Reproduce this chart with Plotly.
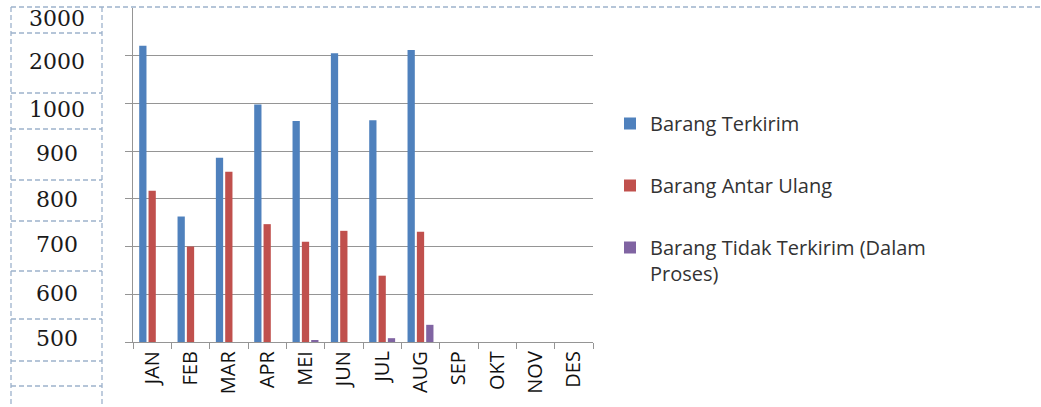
import numpy as np
import plotly.graph_objects as go

months = ["JAN", "FEB", "MAR", "APR", "MEI", "JUN", "JUL", "AUG", "SEP", "OKT", "NOV", "DES"]
terkirim = [2210, 763, 886, 998, 963, 2050, 965, 2120, None, None, None, None]
antar_ulang = [817, 700, 857, 747, 710, 733, 639, 731, None, None, None, None]
tidak_terkirim = [None, None, None, None, 503, None, 508, 536, None, None, None, None]
y_tick_values = [500, 600, 700, 800, 900, 1000, 2000, 3000]
y_tick_labels = ["500", "600", "700", "800", "900", "1000", "2000", "3000"]

# axis positions of the (non-linear) value scale used in the original chart
tick_pos = list(range(len(y_tick_values)))


def to_axis(vals):
    return [None if v is None else float(np.interp(v, y_tick_values, tick_pos)) for v in vals]


W, H = 1041, 407
L, R, T, B = 133, 593, 8, 342


def px(x):
    return (x - L) / (R - L)


def py(y):
    return (B - y) / (B - T)


fig = go.Figure()
series = [
    ("Barang Terkirim", terkirim, "#4F81BD"),
    ("Barang Antar Ulang", antar_ulang, "#C0504D"),
    ("Barang Tidak Terkirim (Dalam<br>Proses)", tidak_terkirim, "#8064A2"),
]
for i, (name, vals, color) in enumerate(series):
    fig.add_trace(go.Bar(
        x=months, y=to_axis(vals), name=name, legendgroup=str(i),
        marker=dict(color=color, line=dict(width=0)),
    ))

dash_color = "#9DB2CC"
# left-hand label table (dashed cell borders)
cell_edges = [7, 33, 93, 129, 180, 221, 271, 319, 361, 386]
shapes = []
shapes.append(dict(type="line", xref="paper", yref="paper", x0=px(11), x1=px(W), y0=py(7), y1=py(7),
                   line=dict(color=dash_color, width=1.3, dash="5px,3px")))
for yy in cell_edges[1:]:
    shapes.append(dict(type="line", xref="paper", yref="paper", x0=px(11), x1=px(102), y0=py(yy), y1=py(yy),
                       line=dict(color=dash_color, width=1.3, dash="5px,3px")))
for xx in [11, 102]:
    shapes.append(dict(type="line", xref="paper", yref="paper", x0=px(xx), x1=px(xx), y0=py(7), y1=py(H),
                       line=dict(color=dash_color, width=1.3, dash="5px,3px")))

# labels sit centred inside the table cells (top cell = highest value)
annotations = []
for k, lab in enumerate(reversed(y_tick_labels)):
    mid = (cell_edges[k] + cell_edges[k + 1]) / 2 - 1.5
    annotations.append(dict(
        x=px(57), xref="paper", y=py(mid), yref="paper", text=lab, showarrow=False,
        xanchor="center", yanchor="middle",
        font=dict(family="DejaVu Serif", size=22, color="#1a1a1a"),
    ))

fig.update_layout(
    width=W, height=H,
    margin=dict(l=L, r=W - R, t=T, b=H - B),
    paper_bgcolor="white", plot_bgcolor="white",
    barmode="group", bargap=0.27, bargroupgap=0.22,
    shapes=shapes, annotations=annotations,
    showlegend=True,
    legend=dict(x=px(610), y=py(104), xanchor="left", yanchor="top",
                font=dict(family="Open Sans", size=20, color="#333333"),
                tracegroupgap=33, valign="top", bgcolor="rgba(0,0,0,0)"),
    xaxis=dict(
        type="category", tickangle=-90, showgrid=False,
        showline=True, linecolor="#959595", linewidth=1.3,
        ticks="outside", tickson="boundaries", ticklen=6, tickcolor="#959595",
        tickfont=dict(family="Open Sans", size=20, color="#111111"),
        range=[-0.5, 11.5],
    ),
    yaxis=dict(
        range=[0, 7], tickvals=tick_pos[:-1], showticklabels=False,
        showgrid=True, gridcolor="#959595", gridwidth=1.3,
        showline=True, linecolor="#959595", linewidth=1.3,
        ticks="outside", ticklen=7, tickcolor="#959595", zeroline=False,
    ),
)

fig.write_html("out.html")
